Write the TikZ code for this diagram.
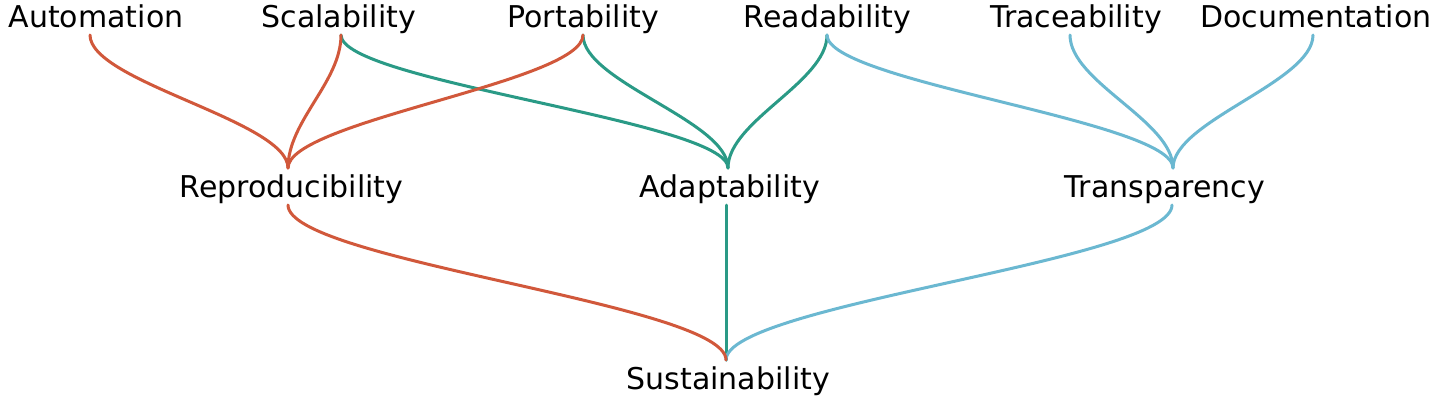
\documentclass[tikz,border=0pt]{standalone}
\usepackage{fontspec}
\setmainfont{DejaVu Sans}
\definecolor{cred}{HTML}{D1583B}
\definecolor{cteal}{HTML}{2A9A86}
\definecolor{cblue}{HTML}{6BB8D1}
\tikzset{
  lbl/.style={anchor=base, inner sep=0pt, font=\fontsize{15pt}{18pt}\selectfont},
  link/.style={line width=1.5pt, line cap=round}
}
\begin{document}
\begin{tikzpicture}[x=0.5pt, y=-0.5pt]
\path[use as bounding box, fill=white] (0,0) rectangle (1440,402);
% labels
\node[lbl] (aut) at (96,27.7) {Automation};
\node[lbl] (sca) at (338.7,27.7) {Scalability};
\node[lbl] (por) at (583.3,27.7) {Portability};
\node[lbl] (rea) at (827.5,27.7) {Readability};
\node[lbl] (tra) at (1076,27.7) {Traceability};
\node[lbl] (doc) at (1316,27.7) {Documentation};
\node[lbl] (rep) at (291.5,197) {Reproducibility};
\node[lbl] (ada) at (730,197) {Adaptability};
\node[lbl] (tsp) at (1165,197) {Transparency};
\node[lbl] (sus) at (728.3,389) {Sustainability};
% attach points
\coordinate (autB) at (90,35);
\coordinate (scaB) at (341,35);
\coordinate (porB) at (583,35);
\coordinate (reaB) at (827,35);
\coordinate (traB) at (1070,35);
\coordinate (docB) at (1313,35);
\coordinate (repT) at (288,168);
\coordinate (repB) at (288,205);
\coordinate (adaT) at (728,168);
\coordinate (adaB) at (726,205);
\coordinate (tspT) at (1173,168);
\coordinate (tspB) at (1172,205);
\coordinate (susT) at (726,360);
% teal
\draw[link, cteal] (scaB) .. controls +(0,47) and +(0,-47) .. (adaT);
\draw[link, cteal] (porB) .. controls +(0,47) and +(0,-47) .. (adaT);
\draw[link, cteal] (reaB) .. controls +(0,47) and +(0,-47) .. (adaT);
\draw[link, cteal] (adaB) -- (susT);
% blue
\draw[link, cblue] (reaB) .. controls +(0,47) and +(0,-47) .. (tspT);
\draw[link, cblue] (traB) .. controls +(0,47) and +(0,-47) .. (tspT);
\draw[link, cblue] (docB) .. controls +(0,47) and +(0,-47) .. (tspT);
\draw[link, cblue] (tspB) .. controls +(0,56) and +(0,-56) .. (susT);
% red
\draw[link, cred] (autB) .. controls +(0,47) and +(0,-47) .. (repT);
\draw[link, cred] (scaB) .. controls +(0,47) and +(0,-47) .. (repT);
\draw[link, cred] (porB) .. controls +(0,47) and +(0,-47) .. (repT);
\draw[link, cred] (repB) .. controls +(0,56) and +(0,-56) .. (susT);
\end{tikzpicture}
\end{document}
